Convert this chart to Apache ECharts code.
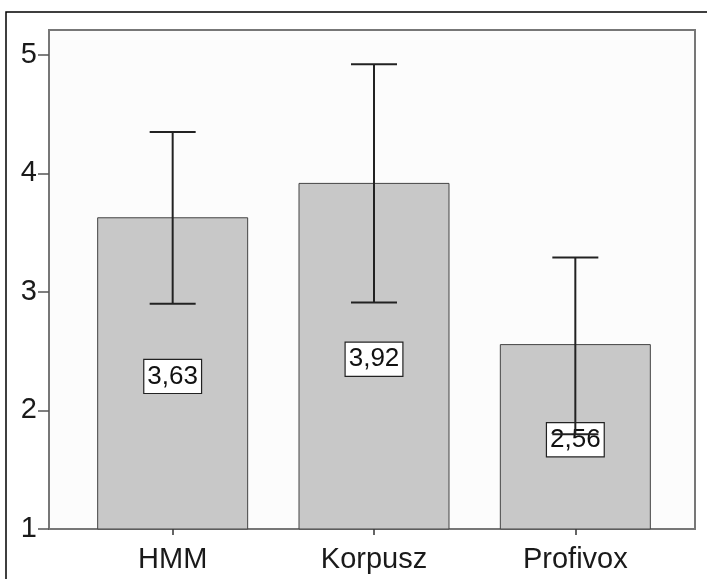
<!DOCTYPE html>
<html>
<head>
<meta charset="utf-8">
<script src="https://cdn.jsdelivr.net/npm/echarts@6/dist/echarts.min.js"></script>
<style>html,body{margin:0;padding:0;background:#fff}#c{width:707px;height:579px}</style>
</head>
<body>
<div id="c"></div>
<script>
const categories = ['HMM', 'Korpusz', 'Profivox'];
const means = [3.63, 3.92, 2.56];
const errLow = [2.90, 2.91, 1.80];
const errHigh = [4.35, 4.92, 3.29];
const meanLabels = ['3,63', '3,92', '2,56'];
const yTicks = [1, 2, 3, 4, 5];

const FONT = '"Liberation Sans", Arial, sans-serif';
const chart = echarts.init(document.getElementById('c'), null, {renderer: 'canvas'});
const yMin = 1, yMax = 5.21;

chart.setOption({
  animation: false,
  backgroundColor: '#fff',
  graphic: [{
    type: 'rect', z: 100,
    shape: {x: 6, y: 12, width: 720, height: 620},
    style: {fill: 'none', stroke: '#000', lineWidth: 1.5}
  }],
  grid: [
    {left: 49, top: 30, right: 12, bottom: 50, show: true, backgroundColor: '#fcfcfc', borderColor: '#777', borderWidth: 2, z: 0},
    {left: 72, top: 30, right: 31, bottom: 50}
  ],
  xAxis: [
    {gridIndex: 0, type: 'value', min: 0, max: 1, show: false},
    {gridIndex: 1, type: 'category', data: categories,
     axisLine: {show: false},
     axisTick: {show: true, alignWithLabel: true, length: 6, lineStyle: {color: '#333', width: 1.5}},
     axisLabel: {fontFamily: FONT, fontSize: 29, color: '#1a1a1a', margin: 16}}
  ],
  yAxis: [
    {gridIndex: 0, type: 'value', min: yMin, max: yMax,
     splitLine: {show: false},
     axisLine: {show: false},
     axisTick: {show: true, length: 11, customValues: yTicks, lineStyle: {color: '#555', width: 1.5}},
     axisLabel: {fontFamily: FONT, fontSize: 29, color: '#1a1a1a', margin: 12, customValues: yTicks, padding: [8, 0, 0, 0]}},
    {gridIndex: 1, type: 'value', min: yMin, max: yMax, show: false}
  ],
  series: [
    {
      type: 'bar', xAxisIndex: 1, yAxisIndex: 1,
      data: means, barWidth: 151,
      itemStyle: {color: '#c8c8c8', borderColor: '#444', borderWidth: 1},
      label: {
        show: true, position: 'inside', offset: [0, 3],
        formatter: p => meanLabels[p.dataIndex],
        fontFamily: FONT, fontSize: 26, color: '#111',
        backgroundColor: '#fff', borderColor: '#222', borderWidth: 1.2,
        padding: [3, 3, 2, 3], lineHeight: 28
      },
      z: 2
    },
    {
      type: 'custom', xAxisIndex: 1, yAxisIndex: 1, z: 3,
      data: categories.map((c, i) => [i, errLow[i], errHigh[i]]),
      renderItem: function (params, api) {
        const lo = api.coord([api.value(0), api.value(1)]);
        const hi = api.coord([api.value(0), api.value(2)]);
        const half = 23;
        const st = {stroke: '#222', lineWidth: 2};
        return {type: 'group', children: [
          {type: 'line', shape: {x1: hi[0], y1: hi[1], x2: lo[0], y2: lo[1]}, style: st},
          {type: 'line', shape: {x1: hi[0] - half, y1: hi[1], x2: hi[0] + half, y2: hi[1]}, style: st},
          {type: 'line', shape: {x1: lo[0] - half, y1: lo[1], x2: lo[0] + half, y2: lo[1]}, style: st}
        ]};
      }
    }
  ]
});
</script>
</body>
</html>
